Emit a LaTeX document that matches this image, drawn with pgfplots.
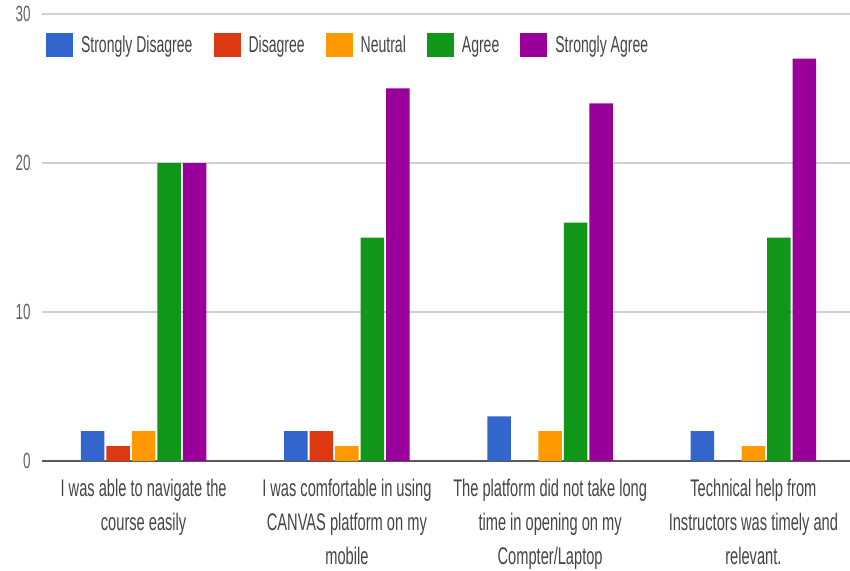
\documentclass[border=0pt]{standalone}
\usepackage{pgfplots}
\pgfplotsset{compat=1.18}
\usepackage{fontspec}
\setmainfont{Liberation Sans}[FakeStretch=0.61]
\definecolor{cSD}{HTML}{3366CC}
\definecolor{cD}{HTML}{DC3912}
\definecolor{cN}{HTML}{FF9900}
\definecolor{cA}{HTML}{109618}
\definecolor{cSA}{HTML}{990099}
\definecolor{txt}{HTML}{444444}
\begin{document}
\begin{tikzpicture}
\useasboundingbox (-42pt,-109pt) rectangle (808pt,461pt);
\begin{axis}[
  at={(0,0)}, anchor=south west,
  scale only axis, width=813pt, height=447pt,
  xmin=-0.5, xmax=3.5, ymin=0, ymax=30,
  ytick={0,10,20,30},
  /pgf/number format/assume math mode=true,
  xtick={0,1,2,3},
  xticklabels={{I was able to navigate the\\course easily},
               {I was comfortable in using\\CANVAS platform on my\\mobile},
               {The platform did not take long\\time in opening on my\\Compter/Laptop},
               {Technical help from\\Instructors was timely and\\relevant.}},
  x tick label style={align=center, font=\fontsize{24}{34}\selectfont, text=txt, yshift=-15pt},
  y tick label style={font=\fontsize{22}{24}\selectfont, text=txt!85, xshift=-8pt},
  ymajorgrids, grid style={black!18, line width=1.3pt},
  extra y ticks={0}, extra y tick labels={},
  extra y tick style={grid style={black!65, line width=1.8pt}},
  axis line style={draw=none},
  major tick length=0pt,
  bar width=0.116,
  legend style={at={(0.001,0.931)}, anchor=west, draw=none, fill=none,
    font=\fontsize{23}{26}\selectfont, text=txt,
    legend columns=-1,
    /tikz/every even column/.append style={column sep=19pt}},
  legend image code/.code={\fill[#1] (0pt,-12pt) rectangle (27pt,12pt); \path (33pt,0pt);},
]
\addplot[ybar, fill=cSD, draw=none, bar shift=-0.251] coordinates {(0,2) (1,2) (2,3) (3,2)};
\addplot[ybar, fill=cD, draw=none, bar shift=-0.1255] coordinates {(0,1) (1,2) (2,0) (3,0)};
\addplot[ybar, fill=cN, draw=none, bar shift=0] coordinates {(0,2) (1,1) (2,2) (3,1)};
\addplot[ybar, fill=cA, draw=none, bar shift=0.1255] coordinates {(0,20) (1,15) (2,16) (3,15)};
\addplot[ybar, fill=cSA, draw=none, bar shift=0.251] coordinates {(0,20) (1,25) (2,24) (3,27)};
\legend{Strongly Disagree, Disagree, Neutral, Agree, Strongly Agree}
\end{axis}
\end{tikzpicture}
\end{document}
